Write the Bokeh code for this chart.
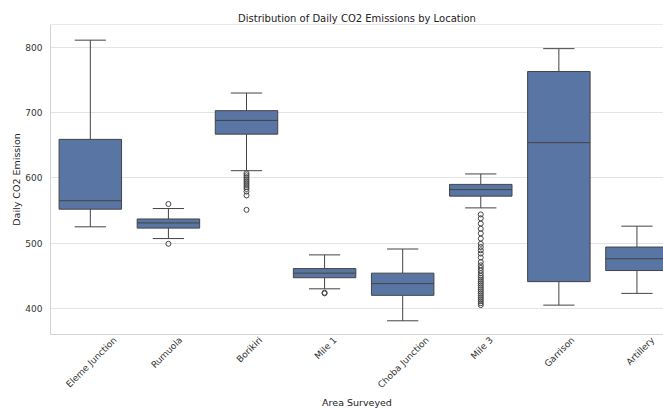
import math
from bokeh.plotting import figure
from bokeh.models import FixedTicker, CustomJSTickFormatter, Range1d, Span
from bokeh.embed import file_html
from bokeh.resources import INLINE

categories = ["Eleme Junction", "Rumuola", "Borikiri", "Mile 1",
              "Choba Junction", "Mile 3", "Garrison", "Artillery"]
whisker_low = [525, 507, 611, 430, 381, 554, 405, 423]
q1 = [552, 523, 667, 447, 420, 572, 441, 458]
median = [565, 531, 688, 454, 438, 582, 654, 476]
q3 = [659, 537, 703, 461, 454, 590, 763, 494]
whisker_high = [811, 553, 730, 482, 491, 606, 798, 526]
outliers = {
    "Rumuola": [560, 499],
    "Borikiri": [607, 604, 601, 598, 595, 592, 589, 586, 583, 579, 573, 551],
    "Mile 1": [424, 423],
    "Mile 3": [544, 538, 530, 522, 515, 507, 499, 494, 489, 484, 478, 471,
               466, 462, 458, 454, 450, 447, 444, 441, 438, 435, 432, 429,
               426, 423, 420, 417, 414, 411, 408, 405],
}
y_ticks = [400, 500, 600, 700, 800]

FONT = "DejaVu Sans"
BOX = "#5975A4"
EDGE = "#444444"
xs = list(range(len(categories)))

p = figure(width=663, height=410, output_backend="svg", toolbar_location=None,
           x_range=Range1d(-0.51, 7.34), y_range=Range1d(360, 835),
           title="Distribution of Daily CO2 Emissions by Location",
           min_border_left=50, min_border_right=0, min_border_top=24, min_border_bottom=0)

p.title.align = "center"
p.title.text_font = FONT
p.title.text_font_size = "10px"
p.title.text_font_style = "normal"
p.title.text_color = "#222222"
p.title.standoff = 2

# whiskers
p.segment(x0=xs, y0=q3, x1=xs, y1=whisker_high, line_color=EDGE, line_width=1)
p.segment(x0=xs, y0=q1, x1=xs, y1=whisker_low, line_color=EDGE, line_width=1)
# caps
p.segment(x0=[x - 0.2 for x in xs], y0=whisker_high, x1=[x + 0.2 for x in xs], y1=whisker_high,
          line_color=EDGE, line_width=1)
p.segment(x0=[x - 0.2 for x in xs], y0=whisker_low, x1=[x + 0.2 for x in xs], y1=whisker_low,
          line_color=EDGE, line_width=1)
# boxes
p.vbar(x=xs, width=0.8, bottom=q1, top=q3, fill_color=BOX, line_color=EDGE, line_width=1)
# medians
p.segment(x0=[x - 0.4 for x in xs], y0=median, x1=[x + 0.4 for x in xs], y1=median,
          line_color=EDGE, line_width=1)
# outliers
ox, oy = [], []
for name, vals in outliers.items():
    i = categories.index(name)
    ox += [i] * len(vals)
    oy += vals
p.scatter(ox, oy, marker="circle", size=5, fill_color=None, line_color=EDGE, line_width=1)

# frame styling
p.outline_line_color = None
p.add_layout(Span(location=835, dimension="width", line_color="#d4d4d4", line_width=1))
p.xgrid.visible = False
p.ygrid.grid_line_color = "#e3e3e3"
p.ygrid.grid_line_width = 1.2
p.ygrid.ticker = FixedTicker(ticks=y_ticks)

for ax in (p.xaxis[0], p.yaxis[0]):
    ax.axis_line_color = "#d4d4d4"
    ax.major_tick_line_color = None
    ax.minor_tick_line_color = None
    ax.major_tick_out = 0
    ax.major_tick_in = 0
    ax.major_label_text_font = FONT
    ax.major_label_text_font_size = "9px"
    ax.major_label_text_color = "#333333"
    ax.axis_label_text_font = FONT
    ax.axis_label_text_font_size = "9.5px"
    ax.axis_label_text_font_style = "normal"
    ax.axis_label_text_color = "#222222"

p.yaxis.ticker = FixedTicker(ticks=y_ticks)
p.yaxis.major_label_standoff = 8
p.yaxis.axis_label = "Daily CO2 Emission"
p.yaxis.axis_label_standoff = 0

# rotated category labels, centred on each box (matplotlib style)
CHAR_PX = 5.0
PX_PER_UNIT = 78.1
label_ticks = [i + len(c) * CHAR_PX * math.cos(math.pi / 4) / 2 / PX_PER_UNIT
               for i, c in enumerate(categories)]
p.xaxis.ticker = FixedTicker(ticks=label_ticks)
p.xaxis.formatter = CustomJSTickFormatter(args=dict(names=categories),
                                          code="return names[Math.floor(tick + 1e-6)];")
p.xaxis.major_label_orientation = math.pi / 4
p.xaxis.major_label_standoff = 4
p.xaxis.axis_label = "Area Surveyed"
p.xaxis.axis_label_standoff = 0

p.background_fill_color = "white"
p.border_fill_color = "white"

open("out.html", "w").write(file_html(p, INLINE))
